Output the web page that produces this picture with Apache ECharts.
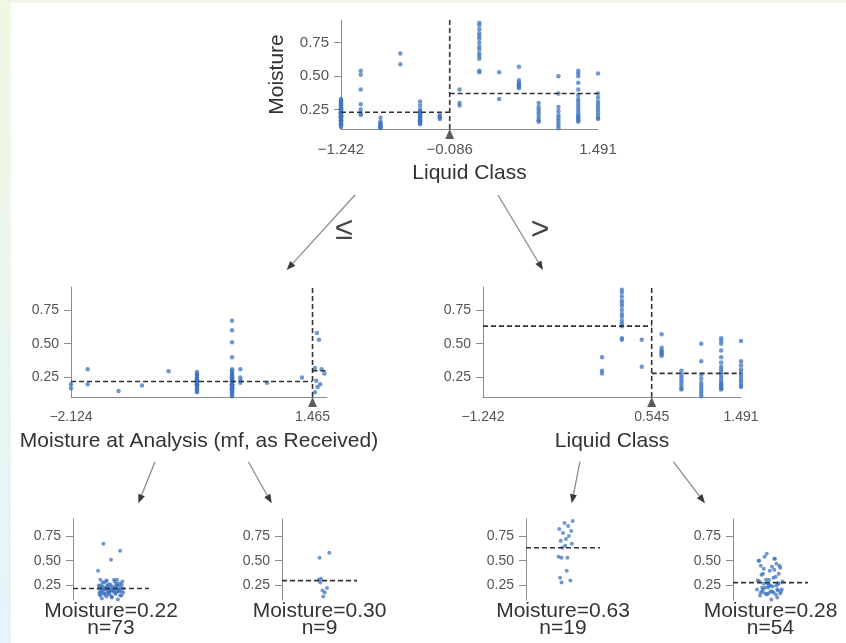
<!DOCTYPE html>
<html>
<head>
<meta charset="utf-8">
<title>Moisture regression tree</title>
<script src="https://cdn.jsdelivr.net/npm/echarts@6/dist/echarts.min.js"></script>
<style>
html, body { margin: 0; padding: 0; background: #fff; }
#chart { width: 846px; height: 643px; }
</style>
</head>
<body>
<div id="chart"></div>
<script>
// shared target range (Moisture) for every node
const moistureRange = [0.105, 0.92]
const moistureTicks = [0.25, 0.5, 0.75]

// root node: Liquid Class, split at -0.086
const rootRange = [-1.242, 1.491]
const rootSplit = -0.086
const rootMeans = [0.23, 0.37]

// Liquid Class levels left of the root split and their moisture values
const leftClassLevels = [-1.242, -1.032, -0.822, -0.611, -0.401, -0.191]
const leftClassMoisture = [
  [0.33, 0.31, 0.30, 0.29, 0.28, 0.27, 0.26, 0.25, 0.25, 0.24, 0.24, 0.23, 0.23, 0.22, 0.22, 0.21, 0.21, 0.20, 0.20, 0.19, 0.19,
   0.18, 0.18, 0.17, 0.16, 0.15, 0.14, 0.13, 0.12, 0.22, 0.32, 0.30, 0.28, 0.26, 0.24, 0.23, 0.21, 0.20, 0.19, 0.17, 0.16, 0.14],
  [0.54, 0.51, 0.40, 0.29, 0.25, 0.22, 0.21],
  [0.19, 0.16, 0.14, 0.13, 0.12, 0.11, 0.15, 0.12],
  [0.67, 0.59],
  [0.31, 0.28, 0.25, 0.23, 0.22, 0.21, 0.20, 0.19, 0.18, 0.17, 0.16, 0.15, 0.14, 0.24, 0.22, 0.20, 0.18, 0.17, 0.15],
  [0.20, 0.19, 0.21, 0.18]
]

// right branch: Liquid Class again, split at 0.545
const rightClassLevels = [0.019, 0.229, 0.440, 0.650, 0.860, 1.070, 1.281, 1.491]
const rightClassMoisture = [
  [0.40, 0.30, 0.28],
  [0.90, 0.88, 0.85, 0.82, 0.80, 0.78, 0.75, 0.72, 0.70, 0.67, 0.65, 0.63, 0.54, 0.53],
  [0.53, 0.33],
  [0.57, 0.47, 0.45, 0.44, 0.43, 0.42, 0.41],
  [0.30, 0.27, 0.25, 0.23, 0.21, 0.19, 0.17, 0.16],
  [0.50, 0.37, 0.27, 0.24, 0.21, 0.19, 0.17, 0.15, 0.13, 0.11],
  [0.54, 0.52, 0.50, 0.45, 0.40, 0.36, 0.33, 0.31, 0.29, 0.27, 0.25, 0.23, 0.21, 0.20, 0.19, 0.18, 0.17, 0.16],
  [0.52, 0.37, 0.34, 0.31, 0.29, 0.27, 0.25, 0.23, 0.21, 0.19, 0.18]
]
const rightRange = [-1.242, 1.491]
const rightSplit = 0.545
const rightMeans = [0.63, 0.28]

// left branch: Moisture at Analysis, split at 1.465
const analysisRange = [-2.124, 1.68]
const analysisSplit = 1.465
const analysisMeans = [0.22, 0.30]
const analysisLevels = [-2.124, -1.876, -1.417, -1.069, -0.674, -0.252, 0.269, 0.392, 0.788, 1.308,
  1.50, 1.52, 1.53, 1.54, 1.56, 1.58, 1.60, 1.64]
const analysisMoisture = [
  [0.20, 0.17],
  [0.31, 0.20],
  [0.15],
  [0.19],
  [0.295],
  [0.29, 0.28, 0.27, 0.26, 0.25, 0.24, 0.23, 0.22, 0.22, 0.21, 0.20, 0.20, 0.19, 0.18, 0.17, 0.16, 0.15, 0.14, 0.23, 0.19, 0.21],
  [0.67, 0.60, 0.51, 0.40, 0.31, 0.30, 0.29, 0.28, 0.27, 0.26, 0.25, 0.25, 0.24, 0.24, 0.23, 0.23, 0.22, 0.22, 0.21, 0.21,
   0.20, 0.20, 0.19, 0.19, 0.18, 0.18, 0.17, 0.17, 0.16, 0.16, 0.15, 0.14, 0.13, 0.12, 0.11, 0.22, 0.20, 0.18, 0.26],
  [0.31, 0.25, 0.23, 0.21],
  [0.21],
  [0.25],
  [0.32, 0.14],
  [0.225],
  [0.58],
  [0.18],
  [0.53],
  [0.20],
  [0.31],
  [0.28]
]

// leaves
const leafMeans = [0.22, 0.30, 0.63, 0.28]
const leafCounts = [73, 9, 19, 54]
const leafJitter1 = [
  0.52, 0.41, 0.58, 0.47, 0.36, 0.63, 0.44, 0.55, 0.39, 0.61,
  0.49, 0.34, 0.57, 0.45, 0.66, 0.42, 0.53, 0.38, 0.60, 0.48,
  0.35, 0.56, 0.43, 0.64, 0.51, 0.37, 0.59, 0.46, 0.40, 0.62,
  0.50, 0.33, 0.54, 0.44, 0.65, 0.41, 0.57, 0.47, 0.36, 0.60,
  0.52, 0.39, 0.63, 0.45, 0.55, 0.34, 0.58, 0.43, 0.49, 0.61,
  0.37, 0.53, 0.46, 0.66, 0.40, 0.56, 0.48, 0.35, 0.62, 0.44,
  0.51, 0.38, 0.59, 0.42, 0.54, 0.47, 0.64, 0.36, 0.57, 0.50,
  0.41, 0.60, 0.45
]
const leafJitter2 = [0.52, 0.55, 0.60, 0.63, 0.57, 0.50, 0.54, 0.49, 0.51]
const leafJitter3 = [0.55, 0.60, 0.48, 0.63, 0.52, 0.57, 0.45, 0.61, 0.50, 0.58, 0.54, 0.47, 0.62, 0.53, 0.49, 0.44, 0.48, 0.56, 0.46]
const leafJitter4 = [
  0.45, 0.58, 0.37, 0.52, 0.63, 0.41, 0.55, 0.33, 0.60, 0.48,
  0.39, 0.65, 0.50, 0.43, 0.57, 0.35, 0.61, 0.46, 0.53, 0.40,
  0.64, 0.47, 0.36, 0.59, 0.51, 0.42, 0.56, 0.34, 0.62, 0.49,
  0.38, 0.54, 0.44, 0.66, 0.41, 0.58, 0.47, 0.32, 0.60, 0.52,
  0.37, 0.63, 0.45, 0.55, 0.40, 0.57, 0.48, 0.35, 0.61, 0.50,
  0.43, 0.59, 0.39, 0.54
]

const FONT = '"Liberation Sans", Arial, sans-serif'
const DOT = '#3f74c0'
const DASH = '#333'
const SPINE = '#8c8c8c'

function toPoints(levels, values) {
  const out = []
  levels.forEach((x, i) => values[i].forEach(y => out.push([x, y])))
  return out
}

const leftRootPoints = toPoints(leftClassLevels, leftClassMoisture)
const rightPoints = toPoints(rightClassLevels, rightClassMoisture)
const analysisPoints = toPoints(analysisLevels, analysisMoisture)

function leafPoints(points, keep, jitter) {
  return points.filter(keep).map((p, i) => [jitter[i] !== undefined ? jitter[i] : 0.5, p[1]])
}
const leaves = [
  leafPoints(analysisPoints, p => p[0] <= analysisSplit, leafJitter1),
  leafPoints(analysisPoints, p => p[0] > analysisSplit, leafJitter2),
  leafPoints(rightPoints, p => p[0] <= rightSplit, leafJitter3),
  leafPoints(rightPoints, p => p[0] > rightSplit, leafJitter4)
]

function fmtTick(v) {
  return (v < 0 ? '\u2212' : '') + Math.abs(v).toFixed(3)
}

const grids = [
  { left: 341, top: 20, width: 257, height: 109 },
  { left: 71, top: 287, width: 256, height: 110 },
  { left: 483, top: 287, width: 258, height: 110 },
  { left: 73, top: 519, width: 76, height: 81 },
  { left: 282, top: 519, width: 75, height: 81 },
  { left: 526, top: 519, width: 74, height: 81 },
  { left: 733, top: 519, width: 75, height: 81 }
]

function yAxisFor(gi, tickSize, name) {
  return {
    type: 'value', gridIndex: gi, min: moistureRange[0], max: moistureRange[1],
    axisLine: { show: true, onZero: false, lineStyle: { color: SPINE, width: 1 } },
    axisTick: { show: true, customValues: moistureTicks, length: 7, lineStyle: { color: SPINE } },
    axisLabel: { customValues: moistureTicks, formatter: v => v.toFixed(2), color: '#555', fontSize: tickSize, fontFamily: FONT, margin: 12 },
    splitLine: { show: false },
    name: name || '', nameLocation: 'middle', nameGap: 53, nameRotate: 90,
    nameTextStyle: { fontSize: 21, color: '#333', fontFamily: FONT }
  }
}

function xAxisPanel(gi, range, ticks, name, tickSize) {
  return {
    type: 'value', gridIndex: gi, min: range[0], max: range[1],
    axisLine: { show: true, onZero: false, lineStyle: { color: SPINE, width: 1 } },
    axisTick: { show: false },
    axisLabel: { customValues: ticks, formatter: fmtTick, color: '#555', fontSize: tickSize, fontFamily: FONT, margin: 13 },
    splitLine: { show: false },
    name: name, nameLocation: 'middle', nameGap: 34,
    nameTextStyle: { fontSize: 21, color: '#333', fontFamily: FONT }
  }
}

function xAxisLeaf(gi, i) {
  return {
    type: 'value', gridIndex: gi, min: 0, max: 1,
    axisLine: { show: false, onZero: false }, axisTick: { show: false }, axisLabel: { show: false }, splitLine: { show: false },
    name: 'Moisture=' + leafMeans[i].toFixed(2) + '\nn=' + leafCounts[i],
    nameLocation: 'middle', nameGap: 3,
    nameTextStyle: { fontSize: 21, lineHeight: 17, color: '#333', fontFamily: FONT, verticalAlign: 'top' }
  }
}

function dashed(gi, data) {
  return {
    type: 'line', xAxisIndex: gi, yAxisIndex: gi, data: data, symbol: 'none', silent: true,
    lineStyle: { color: DASH, width: 1.6, type: [5, 3] }, z: 3
  }
}

function scatter(gi, data, size) {
  return {
    type: 'scatter', xAxisIndex: gi, yAxisIndex: gi, data: data, symbolSize: size, clip: false,
    itemStyle: { color: DOT, opacity: 0.75 }, z: 2
  }
}

function splitPanel(gi, points, range, split, means) {
  return [
    scatter(gi, points, 4.5),
    dashed(gi, [[split, moistureRange[0]], [split, moistureRange[1]]]),
    dashed(gi, [[range[0], means[0]], [split, means[0]]]),
    dashed(gi, [[split, means[1]], [range[1], means[1]]]),
    {
      type: 'scatter', xAxisIndex: gi, yAxisIndex: gi, data: [[split, moistureRange[0]]], clip: false,
      symbol: 'triangle', symbolSize: [9, 10], symbolOffset: [0, 5], silent: true,
      itemStyle: { color: '#333' }, z: 5
    }
  ]
}

function arrow(x1, y1, x2, y2) {
  const dx = x2 - x1, dy = y2 - y1, len = Math.hypot(dx, dy)
  const ux = dx / len, uy = dy / len
  const hl = 9, hw = 3.5
  const bx = x2 - ux * hl, by = y2 - uy * hl
  return [
    { type: 'line', shape: { x1: x1, y1: y1, x2: bx, y2: by }, style: { stroke: '#8c8c8c', lineWidth: 1.3 } },
    { type: 'polygon', shape: { points: [[x2, y2], [bx - uy * hw, by + ux * hw], [bx + uy * hw, by - ux * hw]] }, style: { fill: '#3a3a3a' } }
  ]
}

const series = [].concat(
  splitPanel(0, leftRootPoints.concat(rightPoints), rootRange, rootSplit, rootMeans),
  splitPanel(1, analysisPoints, analysisRange, analysisSplit, analysisMeans),
  splitPanel(2, rightPoints, rightRange, rightSplit, rightMeans)
)
leaves.forEach((pts, i) => {
  const gi = 3 + i
  series.push(scatter(gi, pts, 4))
  series.push(dashed(gi, [[0, leafMeans[i]], [1, leafMeans[i]]]))
})

const chart = echarts.init(document.getElementById('chart'))
chart.setOption({
  animation: false,
  backgroundColor: '#fff',
  textStyle: { fontFamily: FONT },
  grid: grids,
  xAxis: [
    xAxisPanel(0, rootRange, [rootRange[0], rootSplit, rootRange[1]], 'Liquid Class', 15),
    xAxisPanel(1, analysisRange, [analysisRange[0], analysisSplit], 'Moisture at Analysis (mf, as Received)', 14),
    xAxisPanel(2, rightRange, [rightRange[0], rightSplit, rightRange[1]], 'Liquid Class', 14),
    xAxisLeaf(3, 0), xAxisLeaf(4, 1), xAxisLeaf(5, 2), xAxisLeaf(6, 3)
  ],
  yAxis: [
    yAxisFor(0, 15, 'Moisture'),
    yAxisFor(1, 14), yAxisFor(2, 14),
    yAxisFor(3, 14), yAxisFor(4, 14), yAxisFor(5, 14), yAxisFor(6, 14)
  ],
  series: series,
  graphic: [
    { type: 'rect', shape: { x: 0, y: 0, width: 846, height: 3 }, style: { fill: '#eef8e2' }, z: -10 },
    {
      type: 'rect', shape: { x: 0, y: 0, width: 11, height: 643 }, z: -10,
      style: { fill: new echarts.graphic.LinearGradient(0, 0, 0, 1, [{ offset: 0, color: '#eef8e2' }, { offset: 1, color: '#e8f3fb' }]) }
    },
    { type: 'text', x: 344, y: 230, rotation: 0, style: { text: '\u2264', fontSize: 32, fill: '#444', align: 'center', verticalAlign: 'middle', fontFamily: FONT } },
    { type: 'text', x: 540, y: 230, rotation: 0, style: { text: '>', fontSize: 32, fill: '#444', align: 'center', verticalAlign: 'middle', fontFamily: FONT } }
  ].concat(
    arrow(355, 195, 286.7, 270),
    arrow(498, 195, 543, 270),
    arrow(155, 461.7, 138.3, 503.3),
    arrow(248.3, 461.7, 271.7, 503.3),
    arrow(580, 461.7, 571.7, 503.3),
    arrow(673.3, 461.7, 705, 503.3)
  )
})
</script>
</body>
</html>
